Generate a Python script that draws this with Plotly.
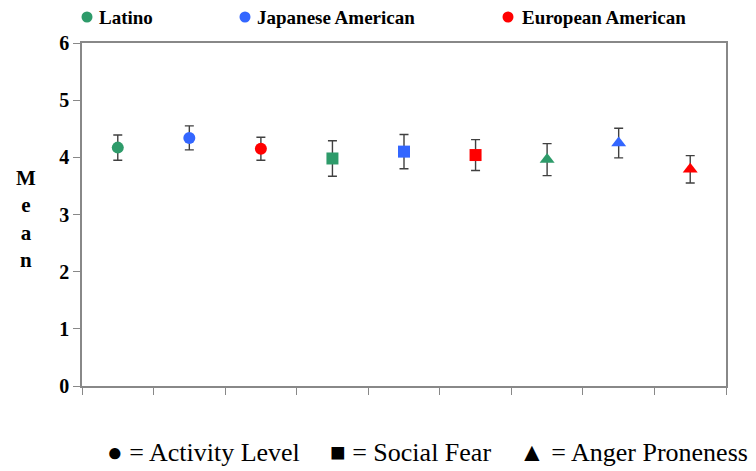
import plotly.graph_objects as go

groups = ["Latino", "Japanese American", "European American"]
colors = ["#2E9B6A", "#3366FF", "#FF0000"]
measures = ["Activity Level", "Social Fear", "Anger Proneness"]
symbols = ["circle", "square", "triangle-up"]
key_syms = ["●", "■", "▲"]

# means[group][measure]
means = [
    [4.17, 3.98, 3.96],
    [4.34, 4.10, 4.25],
    [4.15, 4.04, 3.79],
]
errs = [
    [0.22, 0.31, 0.28],
    [0.21, 0.30, 0.26],
    [0.20, 0.27, 0.24],
]
ytick_vals = [0, 1, 2, 3, 4, 5, 6]

fig = go.Figure()
ng = len(groups)
for g in range(ng):
    xs = [m * ng + g + 1 for m in range(len(measures))]
    fig.add_trace(go.Scatter(
        x=xs, y=means[g], mode="markers", name=groups[g],
        marker=dict(color=colors[g], symbol=symbols, size=[12, 12, 13], opacity=1,
                    line=dict(width=0)),
        error_y=dict(type="data", array=errs[g], color="#404040", thickness=1.4, width=4.5),
        showlegend=False,
    ))

ncat = ng * len(measures)
serif = "Liberation Serif"
fig.update_layout(
    width=748, height=463,
    margin=dict(l=74, r=30, t=35, b=85),
    paper_bgcolor="white", plot_bgcolor="white",
    font=dict(family=serif),
    xaxis=dict(range=[0.5, ncat + 0.5], tickvals=[i + 0.5 for i in range(ncat + 1)],
               ticktext=[""] * (ncat + 1), ticks="outside", ticklen=7, tickcolor="#888888",
               showline=True, linecolor="#888888", linewidth=1.5, mirror=True,
               showgrid=False, zeroline=False),
    yaxis=dict(range=[0, 6], tickvals=ytick_vals, ticks="outside", ticklen=7,
               tickcolor="#888888", showline=True, linecolor="#888888", linewidth=1.5,
               mirror=True, showgrid=False, zeroline=False,
               tickfont=dict(family=serif, size=20, color="black", weight="bold")),
)

def px(X):
    return (X - 82) / 644

def py(Y):
    return (386 - Y) / 343

# top legend: dot + label
dot_x = [87, 245, 508]
text_x = [97, 255, 520]
for g in range(ng):
    fig.add_shape(
        type="circle", xref="paper", yref="paper", xsizemode="pixel", ysizemode="pixel",
        xanchor=px(dot_x[g]), yanchor=py(17), x0=-5.5, x1=5.5, y0=-5.5, y1=5.5,
        fillcolor=colors[g], line=dict(width=0),
    )
    fig.add_annotation(
        xref="paper", yref="paper", x=px(text_x[g]), y=py(18),
        xanchor="left", yanchor="middle", showarrow=False,
        text=f"<b>{groups[g]}</b>",
        font=dict(family=serif, size=19, color="black"),
    )

# y axis title stacked
fig.add_annotation(
    xref="paper", yref="paper", x=px(26), y=py(219),
    xanchor="center", yanchor="middle", showarrow=False,
    text="<br>".join(f"<b>{c}</b>" for c in "Mean"),
    font=dict(family=serif, size=21, color="black"),
)

# bottom key
key_x = [105, 328, 750]
key_anchor = ["left", "left", "right"]
for i in range(len(measures)):
    fig.add_annotation(
        xref="paper", yref="paper", x=px(key_x[i]), y=py(452),
        xanchor=key_anchor[i], yanchor="middle", showarrow=False,
        text=f"{key_syms[i]} = {measures[i]}",
        font=dict(family=serif, size=26, color="black"),
    )

fig.write_html("out.html")
